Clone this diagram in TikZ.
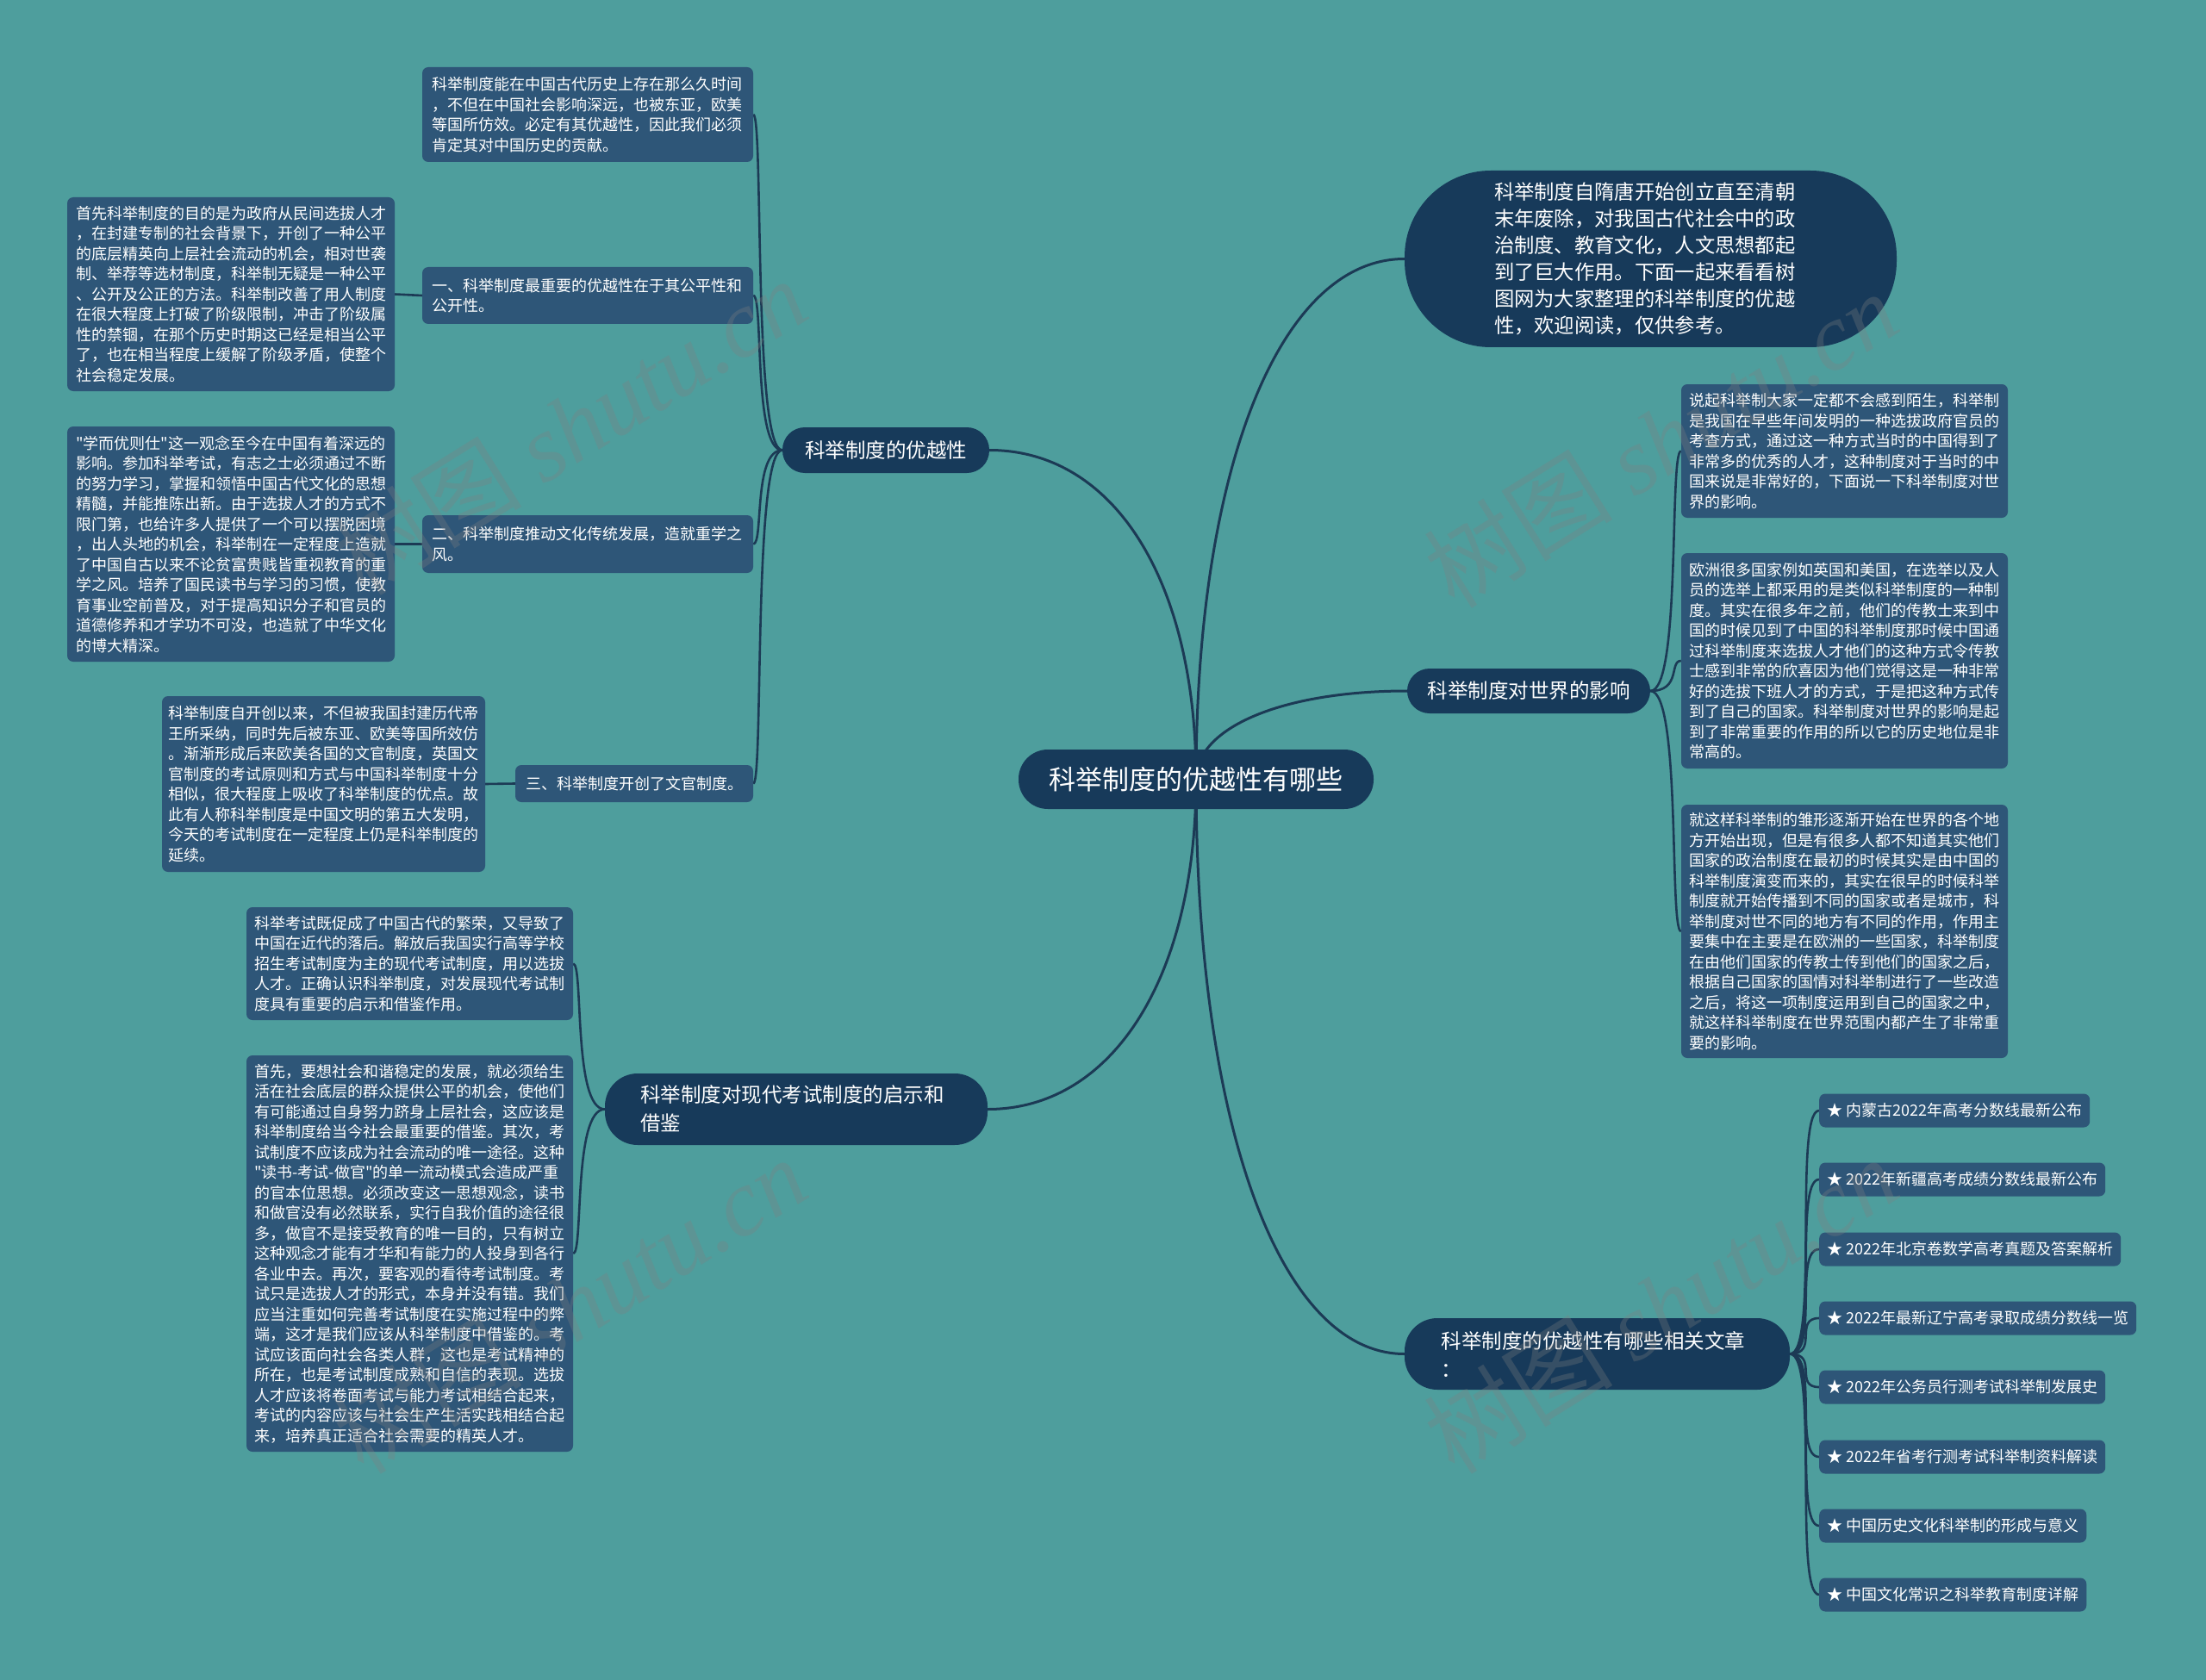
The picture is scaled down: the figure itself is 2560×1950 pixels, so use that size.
\documentclass[tikz,border=0pt]{standalone}
\usepackage{fontspec}
\newfontfamily\cjk{Noto Sans CJK SC}
\newfontfamily\wmlatin{Liberation Serif}
\usetikzlibrary{backgrounds}
\definecolor{bgc}{HTML}{4E9E9D}
\definecolor{leafc}{HTML}{2E5678}
\definecolor{mainc}{HTML}{173A5A}
\definecolor{linec}{HTML}{1C3A55}
\tikzset{
  leaf/.style={fill=leafc, rounded corners=7pt, text=white,
    font=\cjk\fontsize{18pt}{23.5pt}\selectfont, align=left,
    inner xsep=9pt, inner ysep=7pt},
  listitem/.style={leaf, anchor=west, inner xsep=9pt, minimum height=39pt},
  branch/.style={fill=mainc, text=white, inner sep=0pt,
    font=\cjk\fontsize{23.5pt}{33pt}\selectfont},
  conn/.style={draw=linec, line width=3pt},
  subconn/.style={draw=linec, line width=2.6pt},
  wm/.style={text=gray, opacity=0.3, font=\cjk\fontsize{110pt}{110pt}\selectfont, rotate=32}
}
\begin{document}
\begin{tikzpicture}[x=1pt,y=-1pt]
\useasboundingbox (0,0) rectangle (2560,1950);
\begin{scope}[on background layer]
  \fill[bgc] (0,0) rectangle (2560,1950);
\end{scope}

% central
\node[branch, rounded corners=34pt, minimum width=412pt, minimum height=69pt,
  font=\cjk\fontsize{31pt}{38pt}\selectfont] (cen) at (1388,904.5) {科举制度的优越性有哪些};

% intro
\node[branch, rounded corners=100pt, minimum width=571pt, minimum height=205pt,
  text width=363pt, align=left, font=\cjk\fontsize{23.3pt}{31pt}\selectfont] (intro) at (1915.5,300.5)
  {科举制度自隋唐开始创立直至清朝\\末年废除，对我国古代社会中的政\\治制度、教育文化，人文思想都起\\到了巨大作用。下面一起来看看树\\图网为大家整理的科举制度的优越\\性，欢迎阅读，仅供参考。};

% branches
\node[branch, rounded corners=26pt, minimum width=240pt, minimum height=53pt] (b1) at (1028,522.5) {科举制度的优越性};
\node[branch, rounded corners=26pt, minimum width=282pt, minimum height=52pt] (b2) at (1774,802) {科举制度对世界的影响};
\node[branch, rounded corners=38pt, minimum width=444pt, minimum height=83pt, text width=362pt, align=left] (b3) at (924,1287.5) {科举制度对现代考试制度的启示和\\借鉴};
\node[branch, rounded corners=38pt, minimum width=447pt, minimum height=83pt, text width=362pt, align=left] (b4) at (1853.5,1571.5) {科举制度的优越性有哪些相关文章\\：};

% branch 1 children
\node[leaf, text width=362pt, inner xsep=11pt, minimum height=110pt] (A) at (682,133)
  {科举制度能在中国古代历史上存在那么久时间\\，不但在中国社会影响深远，也被东亚，欧美\\等国所仿效。必定有其优越性，因此我们必须\\肯定其对中国历史的贡献。};
\node[leaf, text width=362pt, inner xsep=11pt, minimum height=66pt] (one) at (682,343)
  {一、科举制度最重要的优越性在于其公平性和\\公开性。};
\node[leaf, text width=360pt, inner xsep=10pt, minimum height=225pt] (B) at (268,341.5)
  {首先科举制度的目的是为政府从民间选拔人才\\，在封建专制的社会背景下，开创了一种公平\\的底层精英向上层社会流动的机会，相对世袭\\制、举荐等选材制度，科举制无疑是一种公平\\、公开及公正的方法。科举制改善了用人制度\\在很大程度上打破了阶级限制，冲击了阶级属\\性的禁锢，在那个历史时期这已经是相当公平\\了，也在相当程度上缓解了阶级矛盾，使整个\\社会稳定发展。};
\node[leaf, text width=362pt, inner xsep=11pt, minimum height=67pt] (two) at (682,631.5)
  {二、科举制度推动文化传统发展，造就重学之\\风。};
\node[leaf, text width=360pt, inner xsep=10pt, minimum height=273pt] (C) at (268,631.5)
  {\mbox{"学而优则仕"这一观念至今在中国有着深远的}\\影响。参加科举考试，有志之士必须通过不断\\的努力学习，掌握和领悟中国古代文化的思想\\精髓，并能推陈出新。由于选拔人才的方式不\\限门第，也给许多人提供了一个可以摆脱困境\\，出人头地的机会，科举制在一定程度上造就\\了中国自古以来不论贫富贵贱皆重视教育的重\\学之风。培养了国民读书与学习的习惯，使教\\育事业空前普及，对于提高知识分子和官员的\\道德修养和才学功不可没，也造就了中华文化\\的博大精深。};
\node[leaf, inner xsep=12pt, minimum height=43pt] (three) at (736,909.5)
  {三、科举制度开创了文官制度。};
\node[leaf, text width=361pt, inner xsep=7pt, minimum height=204pt] (D) at (375.5,910)
  {科举制度自开创以来，不但被我国封建历代帝\\王所采纳，同时先后被东亚、欧美等国所效仿\\。渐渐形成后来欧美各国的文官制度，英国文\\官制度的考试原则和方式与中国科举制度十分\\相似，很大程度上吸收了科举制度的优点。故\\此有人称科举制度是中国文明的第五大发明，\\今天的考试制度在一定程度上仍是科举制度的\\延续。};

% branch 3 children
\node[leaf, text width=361pt, minimum height=131pt] (E) at (475.5,1118.5)
  {科举考试既促成了中国古代的繁荣，又导致了\\中国在近代的落后。解放后我国实行高等学校\\招生考试制度为主的现代考试制度，用以选拔\\人才。正确认识科举制度，对发展现代考试制\\度具有重要的启示和借鉴作用。};
\node[leaf, text width=361pt, minimum height=460pt] (F) at (475.5,1455)
  {首先，要想社会和谐稳定的发展，就必须给生\\活在社会底层的群众提供公平的机会，使他们\\有可能通过自身努力跻身上层社会，这应该是\\科举制度给当今社会最重要的借鉴。其次，考\\试制度不应该成为社会流动的唯一途径。这种\\\mbox{"读书-考试-做官"的单一流动模式会造成严重}\\的官本位思想。必须改变这一思想观念，读书\\和做官没有必然联系，实行自我价值的途径很\\多，做官不是接受教育的唯一目的，只有树立\\这种观念才能有才华和有能力的人投身到各行\\各业中去。再次，要客观的看待考试制度。考\\试只是选拔人才的形式，本身并没有错。我们\\应当注重如何完善考试制度在实施过程中的弊\\端，这才是我们应该从科举制度中借鉴的。考\\试应该面向社会各类人群，这也是考试精神的\\所在，也是考试制度成熟和自信的表现。选拔\\人才应该将卷面考试与能力考试相结合起来，\\考试的内容应该与社会生产生活实践相结合起\\来，培养真正适合社会需要的精英人才。};

% branch 2 children
\node[leaf, text width=361pt, minimum height=155pt] (G) at (2140.5,523.5)
  {说起科举制大家一定都不会感到陌生，科举制\\是我国在早些年间发明的一种选拔政府官员的\\考查方式，通过这一种方式当时的中国得到了\\非常多的优秀的人才，这种制度对于当时的中\\国来说是非常好的，下面说一下科举制度对世\\界的影响。};
\node[leaf, text width=361pt, minimum height=250pt] (H) at (2140.5,767)
  {欧洲很多国家例如英国和美国，在选举以及人\\员的选举上都采用的是类似科举制度的一种制\\度。其实在很多年之前，他们的传教士来到中\\国的时候见到了中国的科举制度那时候中国通\\过科举制度来选拔人才他们的这种方式令传教\\士感到非常的欣喜因为他们觉得这是一种非常\\好的选拔下班人才的方式，于是把这种方式传\\到了自己的国家。科举制度对世界的影响是起\\到了非常重要的作用的所以它的历史地位是非\\常高的。};
\node[leaf, text width=361pt, minimum height=294pt] (I) at (2140.5,1081)
  {就这样科举制的雏形逐渐开始在世界的各个地\\方开始出现，但是有很多人都不知道其实他们\\国家的政治制度在最初的时候其实是由中国的\\科举制度演变而来的，其实在很早的时候科举\\制度就开始传播到不同的国家或者是城市，科\\举制度对世不同的地方有不同的作用，作用主\\要集中在主要是在欧洲的一些国家，科举制度\\在由他们国家的传教士传到他们的国家之后，\\根据自己国家的国情对科举制进行了一些改造\\之后，将这一项制度运用到自己的国家之中，\\就这样科举制度在世界范围内都产生了非常重\\要的影响。};

% branch 4 children
\node[listitem] (L1) at (2111,1289) {★ 内蒙古2022年高考分数线最新公布};
\node[listitem] (L2) at (2111,1369) {★ 2022年新疆高考成绩分数线最新公布};
\node[listitem] (L3) at (2111,1450) {★ 2022年北京卷数学高考真题及答案解析};
\node[listitem] (L4) at (2111,1530) {★ 2022年最新辽宁高考录取成绩分数线一览};
\node[listitem] (L5) at (2111,1610) {★ 2022年公务员行测考试科举制发展史};
\node[listitem] (L6) at (2111,1691) {★ 2022年省考行测考试科举制资料解读};
\node[listitem] (L7) at (2111,1771) {★ 中国历史文化科举制的形成与意义};
\node[listitem] (L8) at (2111,1851) {★ 中国文化常识之科举教育制度详解};

% connectors
\begin{scope}[on background layer]
  \draw[conn] (cen.center) .. controls +(0,-230) and +(145,0) .. (b1.east);
  \draw[conn] (cen.center) .. controls +(0,230) and +(145,0) .. (b3.east);
  \draw[conn] (cen.center) .. controls +(0,-360) and +(-145,0) .. (intro.west);
  \draw[conn] (cen.center) .. controls +(0,-60) and +(-145,0) .. (b2.west);
  \draw[conn] (cen.center) .. controls +(0,400) and +(-145,0) .. (b4.west);

  \foreach \t in {A,one,two,three}
    \draw[subconn] (b1.west) .. controls +(-34,0) and +(12,0) .. (\t.east);
  \draw[subconn] (one.west) -- (B.east);
  \draw[subconn] (two.west) -- (C.east);
  \draw[subconn] (three.west) -- (D.east);

  \foreach \t in {E,F}
    \draw[subconn] (b3.west) .. controls +(-37,0) and +(12,0) .. (\t.east);
  \foreach \t in {G,H,I}
    \draw[subconn] (b2.east) .. controls +(36,0) and +(-14,0) .. (\t.west);
  \foreach \t in {L1,L2,L3,L4,L5,L6,L7,L8}
    \draw[subconn] (b4.east) .. controls +(34,0) and +(-30,0) .. (\t.west);
\end{scope}

% watermarks
\node[wm] (w1) at (661,495) {树图 {\wmlatin\itshape shutu.cn}};
\node[wm] (w2) at (1927,510) {树图 {\wmlatin\itshape shutu.cn}};
\node[wm] (w3) at (661,1515) {树图 {\wmlatin\itshape shutu.cn}};
\node[wm] (w4) at (1927,1515) {树图 {\wmlatin\itshape shutu.cn}};
\end{tikzpicture}
\end{document}
